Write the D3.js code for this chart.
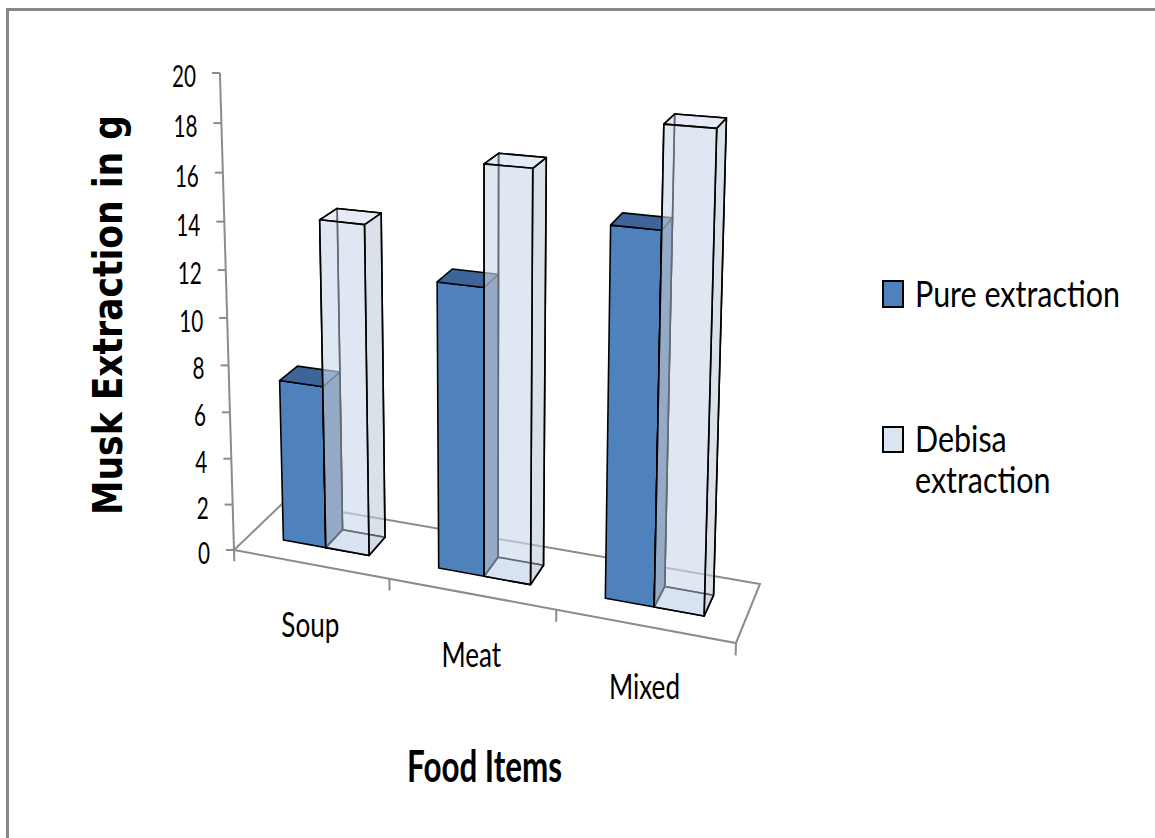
<!DOCTYPE html>
<html><head><meta charset="utf-8">
<script src="https://cdn.jsdelivr.net/npm/d3@7"></script>
<style>html,body{margin:0;padding:0;background:#fff;overflow:hidden}svg{display:block}</style>
</head><body><svg id="c" width="1155" height="838"></svg>
<script>
// ---------------- data ----------------
const categories = ["Soup", "Meat", "Mixed"];
const seriesNames = ["Pure extraction", "Debisa extraction"];
const pureValues = [7, 12, 15];
const debisaValues = [14, 16.9, 19];
const yTicks = [0, 2, 4, 6, 8, 10, 12, 14, 16, 18, 20];
const yTitle = "Musk Extraction in g";
const xTitle = "Food Items";

// ---------------- layout (3D frame) ----------------
const floorQuad = [[234, 550], [736, 643], [760, 584], [284, 502]];
const axisRef = [{v: 10, p: [227, 318]}, {v: 20, p: [220, 73]}];
const barW = 0.28, zFront = 0.32, zBack = 0.68;

const svg = d3.select("#c");
const xScale = d3.scaleLinear().domain([0, categories.length]).range([0, 1]);
const zScale = d3.scaleLinear().domain([0, 1]).range([0, 1]);
const yScale = d3.scaleLinear().domain([0, 20]).range([0, 1]);

function squareToQuad(q) {
  const [x0, y0] = q[0], [x1, y1] = q[1], [x2, y2] = q[2], [x3, y3] = q[3];
  const dx1 = x1 - x2, dx2 = x3 - x2, dy1 = y1 - y2, dy2 = y3 - y2;
  const sx = x0 - x1 + x2 - x3, sy = y0 - y1 + y2 - y3;
  const den = dx1 * dy2 - dx2 * dy1;
  const g = (sx * dy2 - dx2 * sy) / den;
  const h = (dx1 * sy - sx * dy1) / den;
  return {a: x1 - x0 + g * x1, b: x3 - x0 + h * x3, c: x0,
          d: y1 - y0 + g * y1, e: y3 - y0 + h * y3, f: y0, g, h};
}
const HQ = squareToQuad(floorQuad);
const cu = [HQ.a, HQ.d, HQ.g], cv = [HQ.b, HQ.e, HQ.h], c1 = [HQ.c, HQ.f, 1];
// solve the vertical column by least squares
const A = [], B = [];
axisRef.forEach(r => {
  const t = yScale(r.v), [sx, sy] = r.p;
  A.push([t, 0, -sx * t]); B.push(sx - c1[0]);
  A.push([0, t, -sy * t]); B.push(sy - c1[1]);
});
function solve3(M, y) {
  const det = m => m[0][0]*(m[1][1]*m[2][2]-m[1][2]*m[2][1]) - m[0][1]*(m[1][0]*m[2][2]-m[1][2]*m[2][0]) + m[0][2]*(m[1][0]*m[2][1]-m[1][1]*m[2][0]);
  const D = det(M);
  return [0, 1, 2].map(k => det(M.map((row, i) => row.map((v, j) => j === k ? y[i] : v))) / D);
}
const AtA = [0, 1, 2].map(i => [0, 1, 2].map(j => d3.sum(A, r => r[i] * r[j])));
const AtB = [0, 1, 2].map(i => d3.sum(A, (r, k) => r[i] * B[k]));
const cy = solve3(AtA, AtB);

function project(x, val, z) {
  const u = xScale(x), t = yScale(val), v = zScale(z);
  const X = cu[0]*u + cy[0]*t + cv[0]*v + c1[0];
  const Y = cu[1]*u + cy[1]*t + cv[1]*v + c1[1];
  const Wt = cu[2]*u + cy[2]*t + cv[2]*v + 1;
  return [X / Wt, Y / Wt];
}
const line = d3.line();
const poly = pts => line(pts.map(p => project(...p))) + "Z";

// ---------------- text helper ----------------
function fitText(parent, str, opt) {
  const t = parent.append("text").text(str)
    .attr("font-family", opt.family).attr("font-size", opt.size)
    .attr("font-weight", opt.weight || "normal")
    .attr("text-anchor", opt.anchor || "start").attr("fill", "#000");
  return t;
}
function measure(str, opt) {
  const t = fitText(svg, str, opt);
  const w = t.node().getComputedTextLength();
  t.remove();
  return w;
}
function place(t, x, y, k, rot) {
  t.attr("transform", `translate(${x},${y})` + (rot ? ` rotate(${rot})` : "") + ` scale(${k},1)`);
}

// ---------------- border ----------------
svg.append("rect").attr("x", 7.5).attr("y", 9.5).attr("width", 1170).attr("height", 850)
  .attr("fill", "none").attr("stroke", "#878787").attr("stroke-width", 3);

// ---------------- floor & axes ----------------
const nC = categories.length;
svg.append("path").attr("d", poly([[0,0,0],[nC,0,0],[nC,0,1],[0,0,1]]))
  .attr("fill", "none").attr("stroke", "#8c8c8c").attr("stroke-width", 2);
const a0 = project(0, 0, 0), a1 = project(0, 20, 0);
svg.append("line").attr("x1", a0[0]).attr("y1", a0[1]).attr("x2", a1[0]).attr("y2", a1[1])
  .attr("stroke", "#8c8c8c").attr("stroke-width", 2);

const tickOpt = {family: "Lato", size: 30};
const kTick = 24 / measure("20", tickOpt);
yTicks.forEach(v => {
  const p = project(0, v, 0);
  svg.append("line").attr("x1", p[0] - 8).attr("y1", p[1]).attr("x2", p[0]).attr("y2", p[1])
    .attr("stroke", "#8c8c8c").attr("stroke-width", 2);
  const t = fitText(svg, String(v), Object.assign({anchor: "end"}, tickOpt));
  place(t, p[0] - 24, p[1] + 14, kTick);
});
d3.range(nC + 1).forEach(i => {
  const p = project(i, 0, 0), q = project(i, -0.5, 0);
  svg.append("line").attr("x1", p[0]).attr("y1", p[1]).attr("x2", q[0]).attr("y2", q[1])
    .attr("stroke", "#8c8c8c").attr("stroke-width", 2);
});
const catOpt = {family: "Lato", size: 35, anchor: "middle"};
const kCat = 58 / measure("Soup", catOpt);
categories.forEach((c, i) => {
  const p = project(i + 0.5, 0, 0);
  place(fitText(svg, c, catOpt), p[0], p[1] + 73, kCat);
});

// ---------------- bars ----------------
const stroke = "#000", sw = 1.6;
categories.forEach((c, i) => {
  // pure (opaque)
  {
    const x0 = i + 0.5 - barW, x1 = i + 0.5, v = pureValues[i];
    const g = svg.append("g").attr("stroke", stroke).attr("stroke-width", sw).attr("stroke-linejoin", "round");
    g.append("path").attr("d", poly([[x0,0,zFront],[x1,0,zFront],[x1,v,zFront],[x0,v,zFront]])).attr("fill", "#4F81BD");
    g.append("path").attr("d", poly([[x1,0,zFront],[x1,0,zBack],[x1,v,zBack],[x1,v,zFront]])).attr("fill", "#375C8B");
    g.append("path").attr("d", poly([[x0,v,zFront],[x1,v,zFront],[x1,v,zBack],[x0,v,zBack]])).attr("fill", "#3D659A");
  }
  // debisa (transparent)
  {
    const x0 = i + 0.5, x1 = i + 0.5 + barW, v = debisaValues[i];
    const g = svg.append("g").attr("stroke", stroke).attr("stroke-width", sw).attr("stroke-linejoin", "round");
    // hidden faces
    g.append("path").attr("d", poly([[x0,0,zBack],[x1,0,zBack],[x1,v,zBack],[x0,v,zBack]])).attr("fill", "#dfe6ef").attr("fill-opacity", 0.25);
    g.append("path").attr("d", poly([[x0,0,zFront],[x0,0,zBack],[x0,v,zBack],[x0,v,zFront]])).attr("fill", "#dfe6ef").attr("fill-opacity", 0.25);
    g.append("path").attr("d", poly([[x0,0,zFront],[x1,0,zFront],[x1,0,zBack],[x0,0,zBack]])).attr("fill", "#c6d5ea").attr("fill-opacity", 0.4);
    // visible faces
    g.append("path").attr("d", poly([[x1,0,zFront],[x1,0,zBack],[x1,v,zBack],[x1,v,zFront]])).attr("fill", "#b9c3d1").attr("fill-opacity", 0.45);
    g.append("path").attr("d", poly([[x0,v,zFront],[x1,v,zFront],[x1,v,zBack],[x0,v,zBack]])).attr("fill", "#cfdaea").attr("fill-opacity", 0.45);
    g.append("path").attr("d", poly([[x0,0,zFront],[x1,0,zFront],[x1,v,zFront],[x0,v,zFront]])).attr("fill", "#c8d6ea").attr("fill-opacity", 0.5);
  }
});

// ---------------- titles ----------------
const yOpt = {family: "DejaVu Sans", size: 40, weight: "bold", anchor: "middle"};
const kY = 400 / measure(yTitle, yOpt);
place(fitText(svg, yTitle, yOpt), 122, 315, kY, -90);
const xOpt = {family: "Lato", size: 44, weight: "bold", anchor: "middle"};
const kX = 155 / measure(xTitle, xOpt);
place(fitText(svg, xTitle, xOpt), 484.5, 782, kX);

// ---------------- legend ----------------
const legOpt = {family: "Lato", size: 37};
const kLeg = 205 / measure(seriesNames[0], legOpt);
const legColors = ["#4F81BD", "#DCE6F2"];
const legItems = [{sw: [883, 281, 20, 26], lines: ["Pure extraction"], base: 307},
                  {sw: [883, 427, 20, 25], lines: ["Debisa", "extraction"], base: 452}];
legItems.forEach((it, i) => {
  svg.append("rect").attr("x", it.sw[0]).attr("y", it.sw[1]).attr("width", it.sw[2]).attr("height", it.sw[3])
    .attr("fill", legColors[i]).attr("stroke", "#000").attr("stroke-width", 2);
  it.lines.forEach((ln, j) => place(fitText(svg, ln, legOpt), 915, it.base + j * 41, kLeg));
});
</script></body></html>
